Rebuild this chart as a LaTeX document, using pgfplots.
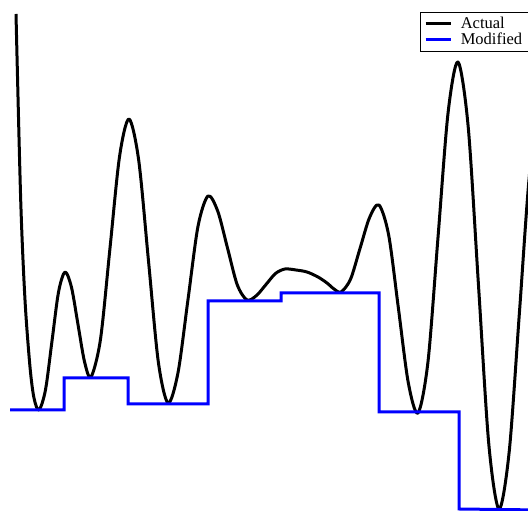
\documentclass[border=0pt]{standalone}
\usepackage{pgfplots}
\pgfplotsset{compat=1.18}
\usepackage{fontspec}
\setmainfont{Liberation Serif}
\begin{document}
\begin{tikzpicture}
\begin{axis}[
  scale only axis, width=528pt, height=511pt,
  xmin=0, xmax=528, ymin=-511, ymax=0,
  hide axis,
  legend style={at={(axis cs:528.5,-12)}, anchor=north east, draw=black, line width=0.6pt,
    font=\fontsize{16.5}{17}\selectfont, inner xsep=4pt, inner ysep=3pt, row sep=-1.5pt,
    column sep=6pt, legend cell align=left},
  legend image code/.code={\draw[#1] (0cm,0cm) -- (0.9cm,0cm);},
]
\addplot[black, line width=3pt, smooth, line join=round] coordinates {
(16,-14) (20.7,-200) (25,-300) (30,-367) (34,-398) (39,-410)
(45.5,-389.8) (52,-341) (58.5,-292.2) (65,-272)
(71.5,-287.4) (78,-324.5) (84.5,-361.6) (91,-377)
(100.5,-339.2) (110,-248) (119.5,-156.8) (129,-119)
(138.75,-160.6) (148.5,-261) (158.25,-361.4) (168,-403)
(178,-372.7) (188,-299.5) (198,-226.3) (208,-196)
(217.75,-211.2) (227.5,-248) (237.25,-284.8) (247,-300)
(256.5,-295.5) (266,-284.5) (275.5,-273.5) (285,-269)
(296,-270) (307,-272) (318,-277) (327,-283) (334,-289) (341,-292)
(350.5,-279.3) (360,-248.5) (369.5,-217.7) (379,-205)
(388.75,-235.5) (398.5,-309) (408.25,-382.5) (418,-413)
(428,-361.6) (438,-237.5) (448,-113.4) (458,-62)
(468.25,-127.4) (478.5,-285.5) (488.75,-443.6) (499,-509)
(509.25,-451.2) (519.5,-311.5) (529.75,-171.8) (540,-114)
};
\addlegendentry{Actual}
\addplot[blue, line width=3pt, line join=miter] coordinates {
(10,-410) (64,-410) (64,-378) (128,-378) (128,-404) (208,-404)
(208,-301) (281,-301) (281,-293) (379,-293) (379,-412) (459,-412)
(459,-509) (540,-510)
};
\addlegendentry{Modified}
\end{axis}
\pgfresetboundingbox
\path (current axis.south west) rectangle (current axis.north east);
\end{tikzpicture}
\end{document}
